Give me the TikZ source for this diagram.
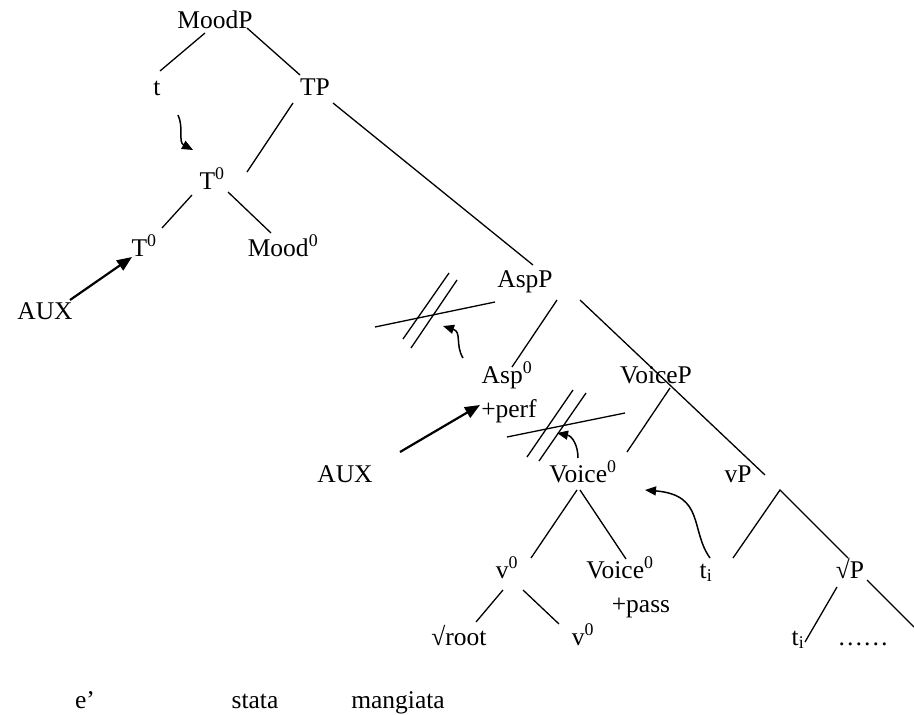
\documentclass[tikz,border=0pt]{standalone}
\usepackage{fontspec}
\setmainfont{Liberation Serif}
\usetikzlibrary{calc,arrows.meta}

\begin{document}
\begin{tikzpicture}[x=1pt,y=-1pt,
    lbl/.style={anchor=base,inner sep=0pt,font=\fontsize{25.5}{30}\selectfont},
    branch/.style={line width=1.3pt},
    strike/.style={line width=1.3pt},
    move/.style={line width=1.5pt,-{Triangle[length=11pt,width=9pt]}},
    raise/.style={line width=2.2pt,-{Triangle[length=15pt,width=12pt]}}]
    \useasboundingbox (0,0) rectangle (914,715);

    % labels of the tree
    \node[lbl] (MoodP) at (215,28) {MoodP};
    \node[lbl] (t) at (157,95) {t};
    \node[lbl] (TP) at (315,95) {TP};
    \node[lbl] (Tm) at (212,189) {T\textsuperscript{0}};
    \node[lbl] (Tl) at (144,256) {T\textsuperscript{0}};
    \node[lbl] (Mood) at (283,256) {Mood\textsuperscript{0}};
    \node[lbl] (AUXa) at (45,319) {AUX};
    \node[lbl] (AspP) at (525,287) {AspP};
    \node[lbl] (Asp) at (507,383) {Asp\textsuperscript{0}};
    \node[lbl] (perf) at (509,417) {+perf};
    \node[lbl] (AUXb) at (345,482) {AUX};
    \node[lbl] (VoiceP) at (656,383) {VoiceP};
    \node[lbl] (Voice) at (583,482) {Voice\textsuperscript{0}};
    \node[lbl] (vP) at (738,482) {vP};
    \node[lbl] (vl) at (507,578) {v\textsuperscript{0}};
    \node[lbl] (Voicel) at (620,578) {Voice\textsuperscript{0}};
    \node[lbl] (pass) at (641,612) {+pass};
    \node[lbl] (ti) at (706,578) {t\textsubscript{i}};
    \node[lbl] (rootP) at (850,578) {√P};
    \node[lbl] (root) at (459,645) {√root};
    \node[lbl] (vll) at (583,645) {v\textsuperscript{0}};
    \node[lbl] (tii) at (798,645) {t\textsubscript{i}};
    \node[lbl] (dots) at (863,645) {……};

    % the words
    \node[lbl] (e) at (85,708) {e’};
    \node[lbl] (stata) at (255,708) {stata};
    \node[lbl] (mang) at (398,708) {mangiata};

    % branches
    \draw[branch] ($(MoodP.base)+(-10,5)$) -- ($(t.base)+(3,-24)$);
    \draw[branch] ($(MoodP.base)+(32,0)$) -- ($(TP.base)+(-15,-20)$);
    \draw[branch] ($(TP.base)+(-22,8)$) -- ($(Tm.base)+(35,-17)$);
    \draw[branch] ($(TP.base)+(18,8)$) -- ($(AspP.base)+(8,-22)$);
    \draw[branch] ($(Tm.base)+(-20,6)$) -- ($(Tl.base)+(18,-28)$);
    \draw[branch] ($(Tm.base)+(16,3)$) -- ($(Mood.base)+(-12,-23)$);
    \draw[branch] ($(AspP.base)+(32,13)$) -- ($(Asp.base)+(5,-16)$);
    \draw[branch] ($(AspP.base)+(55,13)$) -- ($(vP.base)+(27,-7)$);
    \draw[branch] ($(VoiceP.base)+(14,5)$) -- ($(Voice.base)+(44,-30)$);
    \draw[branch] ($(Voice.base)+(-6,8)$) -- ($(vl.base)+(24,-20)$);
    \draw[branch] ($(Voice.base)+(-3,8)$) -- ($(Voicel.base)+(6,-19)$);
    \draw[branch] ($(ti.base)+(27,-20)$) -- ($(vP.base)+(42,8)$) -- ($(rootP.base)+(-2,-20)$);
    \draw[branch] ($(vl.base)+(-4,12)$) -- ($(root.base)+(17,-23)$);
    \draw[branch] ($(vl.base)+(16,12)$) -- ($(vll.base)+(-24,-21)$);
    \draw[branch] ($(rootP.base)+(-13,9)$) -- ($(tii.base)+(7,-3)$);
    \coordinate (cut) at (914,627);
    \draw[branch] ($(rootP.base)+(17,2)$) -- (cut);

    % blocked paths
    \draw[strike] (375,327) -- (495,302);
    \draw[strike] (449,273) -- (403,339);
    \draw[strike] (457,280) -- (411,348);
    \draw[strike] (507,437) -- (625,413);
    \draw[strike] (573,390) -- (527,457);
    \draw[strike] (586,393) -- (539,461);

    % movement
    \draw[move] ($(t.base)+(21,20)$) .. controls (184,128) and (178,142) .. ($(Tm.base)+(-19,-39)$);
    \draw[raise] ($(AUXa.base)+(25,-19)$) -- ($(Tl.base)+(-12,1)$);
    \draw[raise] ($(AUXb.base)+(55,-30)$) -- ($(perf.base)+(-29,-12)$);
    \draw[move] ($(Asp.base)+(-44,-25)$) .. controls (455,345) and (462,332) .. (443,326);
    \draw[move] ($(Voice.base)+(-5,-24)$) .. controls (578,445) and (572,436) .. (557,433);
    \draw[move] ($(ti.base)+(4,-20)$) .. controls (690,530) and (705,495) .. ($(Voice.base)+(62,8)$);
\end{tikzpicture}
\end{document}
